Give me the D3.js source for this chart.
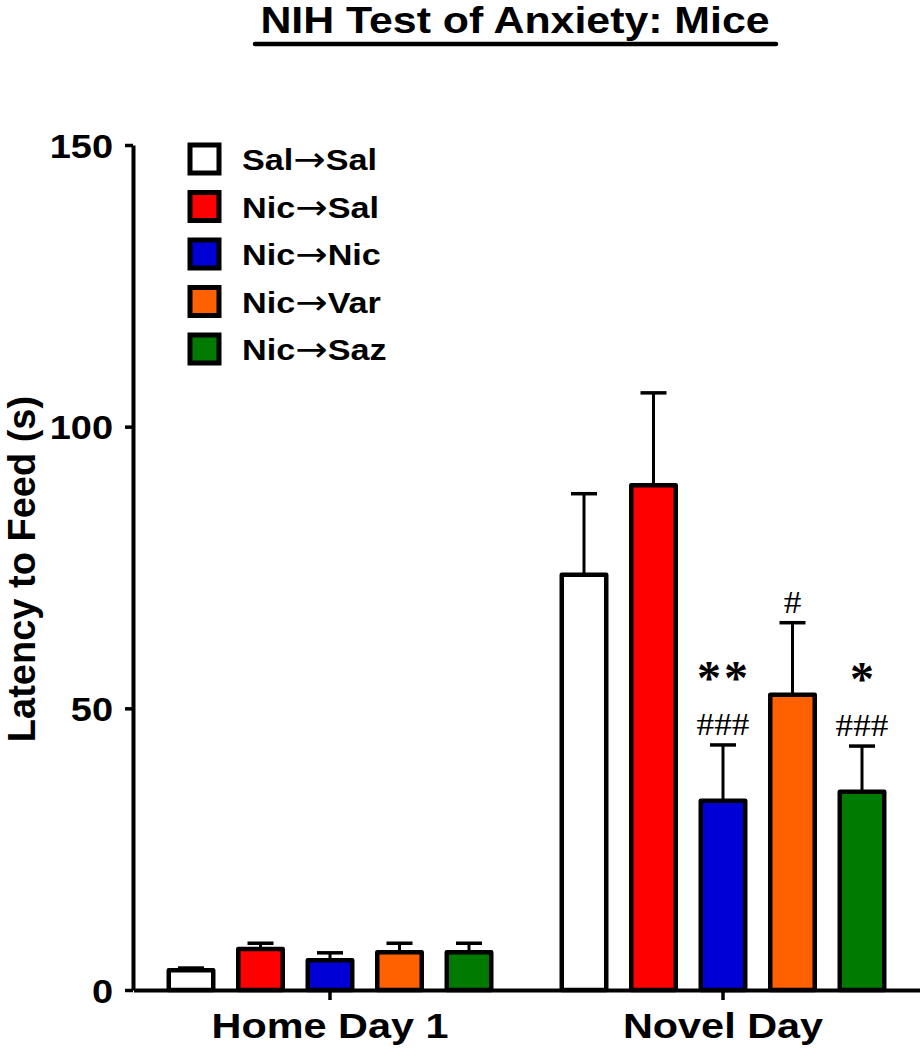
<!DOCTYPE html>
<html>
<head>
<meta charset="utf-8">
<script src="https://cdn.jsdelivr.net/npm/d3@7"></script>
<style>
  html, body { margin: 0; padding: 0; background: #fff; }
  svg { display: block; }
</style>
</head>
<body>
<svg id="chart" width="924" height="1050"></svg>
<script>
// ---------- data ----------
const title = "NIH Test of Anxiety: Mice";
const yLabel = "Latency to Feed (s)";
const groups = ["Home Day 1", "Novel Day"];
const series = ["Sal\u2192Sal", "Nic\u2192Sal", "Nic\u2192Nic", "Nic\u2192Var", "Nic\u2192Saz"];
const colors = ["#FFFFFF", "#FF0000", "#0000D6", "#FF6000", "#007A00"];
const homeMeans = [3.5, 7.3, 5.3, 6.7, 6.7];
const homeSEM   = [0.4, 1.0, 1.3, 1.6, 1.6];
const novelMeans = [73.7, 89.6, 33.6, 52.4, 35.2];
const novelSEM   = [14.4, 16.4, 9.9, 12.8, 8.1];
const yTicks = [0, 50, 100, 150];
const annotations = [
  { group: "Novel Day", series: "Nic\u2192Nic", star: "**", hash: "###" },
  { group: "Novel Day", series: "Nic\u2192Var", star: "",   hash: "#" },
  { group: "Novel Day", series: "Nic\u2192Saz", star: "*",  hash: "###" }
];

const rows = [];
groups.forEach((g, gi) => {
  const m = gi === 0 ? homeMeans : novelMeans;
  const s = gi === 0 ? homeSEM : novelSEM;
  series.forEach((name, si) => rows.push({ group: g, series: name, color: colors[si], mean: m[si], sem: s[si] }));
});

// ---------- layout ----------
const svg = d3.select("#chart");
const SANS = "'Liberation Sans', Arial, sans-serif";
const SERIF = "'Liberation Serif', 'Times New Roman', serif";
const STRETCH = 1.15;

const y = d3.scaleLinear().domain([0, 150]).range([990, 145]);
const x0 = d3.scaleBand().domain(groups).range([133.5, 919.5]).paddingInner(0).paddingOuter(0);
const x1 = d3.scaleBand().domain(series).range([-173.75, 173.75]).paddingInner(0.36).paddingOuter(0.18);
const cx = d => x0(d.group) + x0.bandwidth() / 2 + x1(d.series) + x1.bandwidth() / 2;

function stretchedText(parent, x, yy, txt, size, anchor, family, sx) {
  return parent.append("text")
    .attr("transform", `translate(${x},${yy}) scale(${sx},1)`)
    .attr("text-anchor", anchor)
    .attr("font-family", family)
    .attr("font-weight", "bold")
    .attr("font-size", size)
    .attr("fill", "#000")
    .text(txt);
}

// ---------- title ----------
stretchedText(svg, 515, 33, title, 36, "middle", SANS, 1.19);
svg.append("line").attr("x1", 255).attr("x2", 776).attr("y1", 44).attr("y2", 44)
  .attr("stroke", "#000").attr("stroke-width", 4.5).attr("stroke-linecap", "round");

// ---------- error bars ----------
const eb = svg.append("g");
eb.selectAll("line.v").data(rows).join("line").attr("class", "v")
  .attr("x1", cx).attr("x2", cx)
  .attr("y1", d => y(d.mean)).attr("y2", d => y(d.mean + d.sem))
  .attr("stroke", "#000").attr("stroke-width", 3);
eb.selectAll("line.c").data(rows).join("line").attr("class", "c")
  .attr("x1", d => cx(d) - 13).attr("x2", d => cx(d) + 13)
  .attr("y1", d => y(d.mean + d.sem)).attr("y2", d => y(d.mean + d.sem))
  .attr("stroke", "#000").attr("stroke-width", 3.5);

// ---------- bars ----------
svg.append("g").selectAll("rect").data(rows).join("rect")
  .attr("x", d => cx(d) - x1.bandwidth() / 2)
  .attr("width", x1.bandwidth())
  .attr("y", d => y(d.mean))
  .attr("height", d => y(0) - y(d.mean))
  .attr("fill", d => d.color)
  .attr("stroke", "#000").attr("stroke-width", 4.5)
  .attr("stroke-linejoin", "round");

// ---------- axes ----------
const yAxis = svg.append("g").attr("transform", "translate(133,0)")
  .call(d3.axisLeft(y).tickValues(yTicks).tickSize(8).tickSizeOuter(0));
yAxis.select(".domain").attr("stroke-width", 4);
yAxis.selectAll(".tick line").attr("stroke-width", 3.5);
yAxis.selectAll(".tick text")
  .attr("x", 0).attr("dy", null).attr("y", 12)
  .attr("transform", `translate(-20,0) scale(${STRETCH},1)`)
  .attr("font-family", SANS).attr("font-weight", "bold").attr("font-size", 33).attr("fill", "#000");

const xAxis = svg.append("g").attr("transform", "translate(0,990)")
  .call(d3.axisBottom(x0).tickSize(10).tickSizeOuter(0));
xAxis.select(".domain").attr("stroke-width", 4);
xAxis.selectAll(".tick line").attr("stroke-width", 3.5);
xAxis.selectAll(".tick text")
  .attr("y", 0).attr("dy", null)
  .attr("transform", `translate(0,48) scale(${STRETCH},1)`)
  .attr("font-family", SANS).attr("font-weight", "bold").attr("font-size", 36).attr("fill", "#000");

// y label
svg.append("text")
  .attr("transform", "translate(35,569) rotate(-90)")
  .attr("text-anchor", "middle")
  .attr("font-family", SANS).attr("font-weight", "bold").attr("font-size", 38)
  .text(yLabel);

// ---------- legend ----------
const legRow = d3.scaleLinear().domain([0, 4]).range([159, 349]);
const leg = svg.append("g");
series.forEach((s, i) => {
  const cy = legRow(i);
  leg.append("rect").attr("x", 190).attr("y", cy - 14).attr("width", 29).attr("height", 28)
    .attr("fill", colors[i]).attr("stroke", "#000").attr("stroke-width", 5);
  const parts = s.split("\u2192");
  const t = stretchedText(leg, 242, cy + 11, "", 30, "start", SANS, 1.14);
  t.append("tspan").text(parts[0]);
  t.append("tspan").attr("font-family", "'DejaVu Sans', sans-serif").attr("font-weight", "normal")
    .attr("font-size", 34).attr("dy", 1).text("\u2192");
  t.append("tspan").attr("dy", -1).text(parts[1]);
});

// ---------- annotations ----------
const ann = svg.append("g");
annotations.forEach(a => {
  const d = rows.find(r => r.group === a.group && r.series === a.series);
  const px = cx(d);
  const capY = y(d.mean + d.sem);
  stretchedText(ann, px, capY - 10, a.hash, 32, "middle", SERIF, 1.1).attr("font-weight", "normal");
  if (a.star) {
    stretchedText(ann, px + (a.star.length > 1 ? 1 : 0), capY - 51, a.star, 48, "middle", SERIF, 1.0)
      .attr("letter-spacing", a.star.length > 1 ? 3 : 0);
  }
});
</script>
</body>
</html>
